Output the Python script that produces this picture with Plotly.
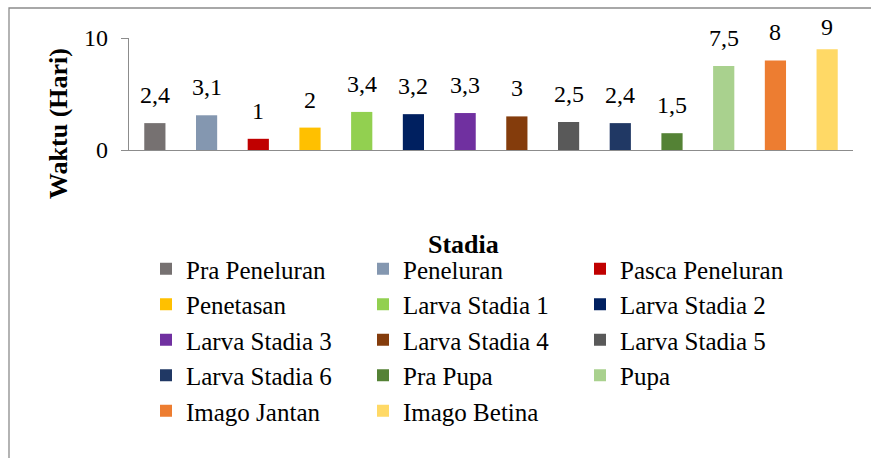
import plotly.graph_objects as go

# Durasi tiap stadia (hari)
stadia = [
    "Pra Peneluran", "Peneluran", "Pasca Peneluran", "Penetasan",
    "Larva Stadia 1", "Larva Stadia 2", "Larva Stadia 3", "Larva Stadia 4",
    "Larva Stadia 5", "Larva Stadia 6", "Pra Pupa", "Pupa",
    "Imago Jantan", "Imago Betina",
]
waktu = [2.4, 3.1, 1, 2, 3.4, 3.2, 3.3, 3, 2.5, 2.4, 1.5, 7.5, 8, 9]
warna = [
    "#767171", "#8497B0", "#C00000", "#FFC000",
    "#92D050", "#002060", "#7030A0", "#843C0C",
    "#595959", "#203864", "#548235", "#A9D18E",
    "#ED7D31", "#FFD966",
]
y_ticks = [0, 10]
y_max = 10

FONT = "'Liberation Serif', 'Times New Roman', serif"
AXIS_GRAY = "#8C8C8C"

W, H = 871, 458
L, R, T, B = 129, 18, 38, 308
pw, ph = W - L - R, H - T - B


def px_x(x):
    return (x - L) / pw


def px_y(y):
    return (H - B - y) / ph


def fmt(v):
    return f"{v:g}".replace(".", ",")


LABEL_GAP = 13      # jarak label di atas batang (px)
LABEL_CEILING = 42  # label tidak boleh naik melewati baris ini (px dari atas)

fig = go.Figure()
for nama, nilai, c in zip(stadia, waktu, warna):
    fig.add_trace(go.Bar(
        x=[nama], y=[nilai], name=nama,
        marker=dict(color=c, line=dict(width=0)),
        width=0.41,
    ))
    bar_top_px = (H - B) - nilai / y_max * ph
    shift = min(LABEL_GAP, bar_top_px - LABEL_CEILING)
    fig.add_annotation(
        x=nama, y=nilai, xref="x", yref="y",
        text=fmt(nilai), showarrow=False,
        yanchor="bottom", yshift=shift,
        font=dict(family=FONT, size=24, color="black"),
    )

# Judul sumbu
fig.add_annotation(
    x=px_x(58), y=px_y(124), xref="paper", yref="paper",
    text="<b>Waktu (Hari)</b>", textangle=-90, showarrow=False,
    xanchor="center", yanchor="middle",
    font=dict(family=FONT, size=26, color="black"),
)
fig.add_annotation(
    x=px_x(463), y=px_y(244), xref="paper", yref="paper",
    text="<b>Stadia</b>", showarrow=False,
    xanchor="center", yanchor="middle",
    font=dict(family=FONT, size=26, color="black"),
)

# Bingkai area grafik
fig.add_shape(
    type="rect", xref="paper", yref="paper",
    x0=px_x(9), x1=px_x(890), y0=px_y(8), y1=px_y(480),
    line=dict(color="#8C8C8C", width=1.3), fillcolor="rgba(0,0,0,0)",
    layer="below",
)

fig.update_layout(
    width=W, height=H,
    margin=dict(l=L, r=R, t=T, b=B),
    paper_bgcolor="white", plot_bgcolor="white",
    barmode="overlay",
    separators=",.",
    font=dict(family=FONT, size=24, color="black"),
    showlegend=True,
    legend=dict(
        orientation="h",
        x=px_x(146), y=px_y(246), xanchor="left", yanchor="top",
        entrywidth=172, entrywidthmode="pixels",
        font=dict(family=FONT, size=25, color="black"),
        bgcolor="rgba(0,0,0,0)", borderwidth=0,
        traceorder="normal", itemclick=False,
    ),
    xaxis=dict(
        type="category", categoryorder="array", categoryarray=stadia,
        range=[-0.5, len(stadia) - 0.5],
        showticklabels=False, ticks="",
        showline=True, linecolor=AXIS_GRAY, linewidth=1.3,
        showgrid=False, zeroline=False, fixedrange=True,
    ),
    yaxis=dict(
        range=[0, y_max], tickvals=y_ticks, ticktext=[fmt(v) for v in y_ticks],
        ticks="outside", ticklen=7, tickcolor=AXIS_GRAY, tickwidth=1.3,
        showline=True, linecolor=AXIS_GRAY, linewidth=1.3,
        showgrid=False, zeroline=False, ticklabelstandoff=8,
        tickfont=dict(family=FONT, size=24, color="black"),
        fixedrange=True,
    ),
)

fig.write_html("out.html")
